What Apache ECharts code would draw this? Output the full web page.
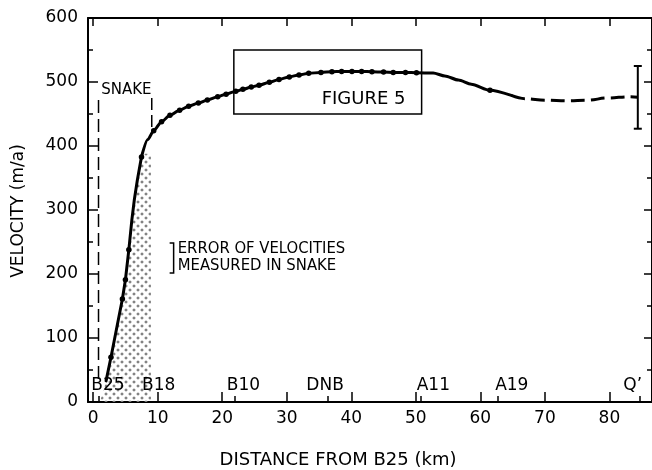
<!DOCTYPE html>
<html>
<head>
<meta charset="utf-8">
<script src="https://cdn.jsdelivr.net/npm/echarts@6/dist/echarts.min.js"></script>
<style>
  html, body { margin: 0; padding: 0; background: #fff; }
  #chart { width: 652px; height: 470px; }
</style>
</head>
<body>
<div id="chart"></div>
<script>
// Measured surface velocities along the flow line (dots)
const measuredKm  = [2.76, 4.53, 5.0, 5.53, 7.49, 9.38, 10.6, 11.9, 13.4, 14.8, 16.3, 17.7, 19.3, 20.6, 22.1, 23.2, 24.5, 25.7, 27.3, 28.8, 30.4, 31.9, 33.4, 35.3, 37.0, 38.5, 40.1, 41.6, 43.2, 45.0, 46.5, 48.4, 50.1, 61.5];
const measuredVel = [70, 161, 191, 238, 383, 424, 438, 448, 456, 462, 467, 472, 477, 481, 485.5, 488.5, 492, 495, 499.5, 504, 508, 511, 513.5, 515, 516, 516.5, 516.5, 516.5, 516, 515.5, 515, 515, 514.5, 487];

// Course of the drawn profile between the measurements
const courseKm  = [2.0, 6.0, 6.38, 6.85, 8.46, 52.7, 54.5, 56.6, 58.6, 64.8];
const courseVel = [33, 285, 316, 347, 410, 514, 509.5, 503, 496.5, 479];

// Uncertain continuation towards Q'
const extrapKm  = [64.8, 66.9, 70.1, 73.5, 76.6, 79.7, 83.2, 84.4];
const extrapVel = [479, 474, 471.5, 470.5, 471.5, 475, 477, 476];

// Velocity at Q' with its error range
const qKm = 84.4;
const qVel = 476;
const qRange = [427, 525];

// Stations along the profile
const stationNames = ['B25', 'B18', 'B10', 'DNB', 'A11', 'A19', 'Q\u2019'];
const stationKm    = [0.9, 10.0, 21.9, 36.4, 50.7, 62.7, 84.7];

// Snake reach (B25 to B18) and the error zone of velocities measured in it
const snakeKm    = [0.83, 9.08];
const snakeTop   = [472, 475];
const snakeBase  = [35, 425];
const zoneKm  = [1.05, 2.0, 2.76, 4.53, 5.0, 5.53, 6.0, 6.38, 6.85, 7.5, 8.95, 8.95];
const zoneVel = [0, 33, 70, 161, 191, 238, 285, 316, 347, 388, 388, 0];

// Extent of the section enlarged in Figure 5
const fig5Km  = [21.8, 50.9];
const fig5Vel = [450, 550];

// Axis ticks
const xTicks = [0, 10, 20, 30, 40, 50, 60, 70, 80];
const yTicks = [0, 100, 200, 300, 400, 500, 600];

// ---------------------------------------------------------------
const FONT = '"DejaVu Sans", "Liberation Sans", sans-serif';
const NARROW = '"Liberation Sans Narrow", "DejaVu Sans Condensed", "Liberation Sans", sans-serif';

const profile = measuredKm.map((k, i) => [k, measuredVel[i]])
  .concat(courseKm.map((k, i) => [k, courseVel[i]]))
  .sort((a, b) => a[0] - b[0]);
// the steep rise is drawn point to point, the bend and plateau smoothed
const SPLIT_KM = 7.49;
const profileSteep = profile.filter(p => p[0] <= SPLIT_KM);
const profileFlat = profile.filter(p => p[0] >= SPLIT_KM);

function hatchPattern() {
  const c = document.createElement('canvas');
  c.width = 8; c.height = 8;
  const g = c.getContext('2d');
  g.fillStyle = '#808080';
  const dia = (x, y) => {
    g.beginPath();
    g.moveTo(x, y - 1.8); g.lineTo(x + 1.8, y); g.lineTo(x, y + 1.8); g.lineTo(x - 1.8, y);
    g.closePath(); g.fill();
  };
  dia(2, 2); dia(6, 6);
  return c;
}
const hatch = { image: hatchPattern(), repeat: 'repeat' };

const labelShift = { 'B25': 9, 'B18': 1, 'B10': 9, 'DNB': -3, 'A11': 13, 'A19': 14, 'Q\u2019': -7 };

const black = '#000';
const clear = { color: 'rgba(0,0,0,0)', opacity: 1 };

const chart = echarts.init(document.getElementById('chart'), null, { renderer: 'canvas' });

const baseX = { type: 'value', min: -0.8, max: 86.6, splitLine: { show: false } };
const baseY = { type: 'value', min: 0, max: 600, interval: 100, splitLine: { show: false } };

const option = {
  animation: false,
  backgroundColor: '#fff',
  grid: { left: 88, top: 18, right: -3, bottom: 68, containLabel: false },
  xAxis: [
    Object.assign({}, baseX, {
      position: 'bottom',
      axisLine: { show: true, onZero: false, lineStyle: { color: black, width: 2 } },
      axisTick: { show: true, inside: true, length: 10, customValues: xTicks, lineStyle: { color: black, width: 1.5 } },
      axisLabel: { show: true, customValues: xTicks, margin: 8, color: black, fontSize: 17, fontFamily: FONT }
    }),
    Object.assign({}, baseX, {
      position: 'top',
      axisLine: { show: true, onZero: false, lineStyle: { color: black, width: 2 } },
      axisTick: { show: true, inside: true, length: 8, customValues: xTicks, lineStyle: { color: black, width: 1.5 } },
      axisLabel: { show: false }
    }),
    Object.assign({}, baseX, {
      position: 'bottom',
      axisLine: { show: false },
      axisTick: { show: true, inside: true, length: 6, customValues: stationKm, lineStyle: { color: black, width: 1.5 } },
      axisLabel: { show: false }
    })
  ],
  yAxis: [
    Object.assign({}, baseY, {
      position: 'left',
      axisLine: { show: true, onZero: false, lineStyle: { color: black, width: 2 } },
      axisTick: { show: true, inside: true, length: 10, lineStyle: { color: black, width: 1.5 } },
      minorTick: { show: true, splitNumber: 2, length: 5, lineStyle: { color: black, width: 1.5 } },
      axisLabel: { show: true, margin: 10, color: black, fontSize: 17, fontFamily: FONT,
        formatter: v => (yTicks.indexOf(v) >= 0 ? String(v) : '') }
    }),
    Object.assign({}, baseY, {
      position: 'right',
      axisLine: { show: true, onZero: false, lineStyle: { color: black, width: 2 } },
      axisTick: { show: true, inside: true, length: 8, lineStyle: { color: black, width: 1.5 } },
      minorTick: { show: true, splitNumber: 2, length: 5, lineStyle: { color: black, width: 1.5 } },
      axisLabel: { show: false }
    })
  ],
  series: [
    {
      // error zone of velocities measured in the snake
      type: 'custom', silent: true, z: 1,
      data: zoneKm.map((k, i) => [k, zoneVel[i]]),
      renderItem: (params, api) => {
        if (params.dataIndex !== 0) return null;
        const pts = zoneKm.map((k, i) => api.coord([k, zoneVel[i]]));
        return { type: 'polygon', shape: { points: pts }, style: { fill: hatch, stroke: null } };
      }
    },
    {
      // Figure 5 frame
      type: 'custom', silent: true, z: 2,
      data: [[fig5Km[0], fig5Vel[0], fig5Km[1], fig5Vel[1]]],
      renderItem: (params, api) => {
        const a = api.coord([api.value(0), api.value(3)]);
        const b = api.coord([api.value(2), api.value(1)]);
        return { type: 'rect', shape: { x: a[0], y: a[1], width: b[0] - a[0], height: b[1] - a[1] },
          style: { fill: null, stroke: black, lineWidth: 1.5 } };
      }
    },
    {
      // snake limits
      type: 'line', silent: true, z: 3, symbol: 'none',
      data: [[snakeKm[0], snakeTop[0]], [snakeKm[0], snakeBase[0]]],
      lineStyle: { color: black, width: 1.5, type: [13, 6] }
    },
    {
      type: 'line', silent: true, z: 3, symbol: 'none',
      data: [[snakeKm[1], snakeTop[1]], [snakeKm[1], snakeBase[1]]],
      lineStyle: { color: black, width: 1.5, type: [12, 5] }
    },
    {
      // velocity profile, steep rise in the snake
      type: 'line', silent: true, z: 5, symbol: 'none',
      smooth: false,
      data: profileSteep,
      lineStyle: { color: black, width: 3, cap: 'round', join: 'round' }
    },
    {
      // velocity profile, bend and plateau
      type: 'line', silent: true, z: 5, symbol: 'none',
      smooth: 0.25, smoothMonotone: 'x',
      data: profileFlat,
      lineStyle: { color: black, width: 3, cap: 'round', join: 'round' }
    },
    {
      type: 'line', silent: true, z: 5, symbol: 'none',
      smooth: 0.4, smoothMonotone: 'x',
      data: extrapKm.map((k, i) => [k, extrapVel[i]]),
      lineStyle: { color: black, width: 3, type: [14, 6] }
    },
    {
      type: 'scatter', silent: true, z: 6,
      data: measuredKm.map((k, i) => [k, measuredVel[i]]),
      symbol: 'circle', symbolSize: 5.5,
      itemStyle: { color: black, opacity: 1 }
    },
    {
      // Q' velocity error bar
      type: 'custom', silent: true, z: 6,
      data: [[qKm, qVel, qRange[0], qRange[1]]],
      renderItem: (params, api) => {
        const lo = api.coord([api.value(0), api.value(2)]);
        const hi = api.coord([api.value(0), api.value(3)]);
        const w = 4;
        const st = { stroke: black, lineWidth: 2 };
        return { type: 'group', children: [
          { type: 'line', shape: { x1: hi[0], y1: hi[1], x2: lo[0], y2: lo[1] }, style: st },
          { type: 'line', shape: { x1: hi[0] - w, y1: hi[1], x2: hi[0] + w, y2: hi[1] }, style: st },
          { type: 'line', shape: { x1: lo[0] - w, y1: lo[1], x2: lo[0] + w, y2: lo[1] }, style: st }
        ] };
      }
    },
    {
      // bracket of the error-zone key
      type: 'custom', silent: true, z: 6,
      data: [[12.47, 248.6, 201.7]],
      renderItem: (params, api) => {
        const t = api.coord([api.value(0), api.value(1)]);
        const b = api.coord([api.value(0), api.value(2)]);
        return { type: 'polyline',
          shape: { points: [[t[0] - 4, t[1]], t, b, [b[0] - 4, b[1]]] },
          style: { stroke: black, lineWidth: 1.5, fill: null } };
      }
    },
    {
      // station names along the bottom axis
      type: 'scatter', silent: true, z: 7,
      symbolSize: 1, itemStyle: clear,
      data: stationNames.map((n, i) => ({
        value: [stationKm[i], 25],
        label: { show: true, position: 'inside', offset: [labelShift[n], 0], formatter: n,
          color: black, opacity: 1, fontSize: 17, fontFamily: FONT }
      }))
    },
    {
      // annotations
      type: 'scatter', silent: true, z: 7,
      symbolSize: 1, itemStyle: clear,
      data: [
        { value: [5.15, 488], label: { show: true, position: 'inside', formatter: 'SNAKE',
            color: black, opacity: 1, fontSize: 15, fontFamily: FONT } },
        { value: [48.4, 472.7], label: { show: true, position: 'inside', align: 'right', formatter: 'FIGURE 5',
            color: black, opacity: 1, fontSize: 18, fontFamily: FONT } },
        { value: [13.1, 226.4], label: { show: true, position: 'inside', align: 'left',
            formatter: 'ERROR OF VELOCITIES\nMEASURED IN SNAKE', lineHeight: 17.5,
            color: black, opacity: 1, fontSize: 16.5, fontFamily: NARROW } }
      ]
    }
  ],
  graphic: [
    { type: 'text', x: 19, y: 211, rotation: Math.PI / 2,
      style: { text: 'VELOCITY (m/a)', fill: black, font: '17px ' + FONT, textAlign: 'center', textVerticalAlign: 'middle' } },
    { type: 'text', x: 338, y: 460,
      style: { text: 'DISTANCE FROM B25 (km)', fill: black, font: '18px ' + FONT, textAlign: 'center', textVerticalAlign: 'middle' } }
  ]
};

chart.setOption(option);
</script>
</body>
</html>
